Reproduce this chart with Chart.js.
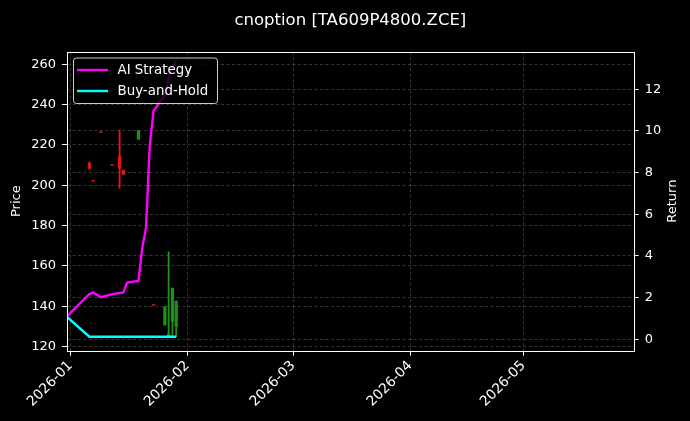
<!DOCTYPE html>
<html><head><meta charset="utf-8">
<script src="https://cdn.jsdelivr.net/npm/chart.js@4.4.1/dist/chart.umd.min.js"></script>
<style>html,body{margin:0;padding:0;background:#000;}#wrap{width:690px;height:421px;}</style>
</head><body><div id="wrap"><canvas id="c" width="690" height="421"></canvas></div>
<script>
const titleText = 'cnoption [TA609P4800.ZCE]';
const seriesNames = ['AI Strategy', 'Buy-and-Hold'];
const axisTitles = ['Price', 'Return'];
const tradeDates = ['2025-12-31','2026-01-06','2026-01-07','2026-01-08','2026-01-09','2026-01-12','2026-01-13','2026-01-14','2026-01-15','2026-01-16','2026-01-19','2026-01-20','2026-01-21','2026-01-22','2026-01-23','2026-01-26','2026-01-27','2026-01-28','2026-01-29'];
const aiStrategy = [1.08,2.17,2.24,2.13,2.02,2.16,2.19,2.22,2.25,2.72,2.80,4.38,5.34,9.30,10.96,11.7,12.5,13.1,13.4];
const buyHold = [1.08,0.12,0.12,0.12,0.12,0.12,0.12,0.12,0.12,0.12,0.12,0.12,0.12,0.12,0.12,0.12,0.12,0.12,0.12];
const candleDates = ['2026-01-06','2026-01-07','2026-01-09','2026-01-12','2026-01-14','2026-01-15','2026-01-19','2026-01-23','2026-01-26','2026-01-27','2026-01-28','2026-01-29'];
const candleOpen  = [211.0,202.5,226.5,210.2,214.2,207.2,222.8,140.9,130.8,125.0,132.5,130.0];
const candleHigh  = [211.5,202.5,226.5,210.2,227.4,207.5,227.1,140.9,139.8,167.0,149.0,142.6];
const candleLow   = [208.0,202.2,226.2,209.9,198.5,205.3,222.8,140.6,130.8,125.0,125.0,125.0];
const candleClose = [208.5,202.2,226.2,209.9,208.5,205.6,227.1,140.6,139.8,126.2,149.0,142.6];
const priceTicks = [120,140,160,180,200,220,240,260];
const returnTicks = [0,2,4,6,8,10,12];
const monthTicks = ['2026-01','2026-02','2026-03','2026-04','2026-05'];

const DAY = 86400000, BASE = Date.UTC(2026,0,1);
function dayOf(s){const p=s.split('-').map(Number);return (Date.UTC(p[0],p[1]-1,p[2]||1)-BASE)/DAY;}
const monthVals = monthTicks.map(dayOf);

const FONT = 'DejaVu Sans';
const TICKSZ = 13;
const XTICKSZ = 13.8;
const LEGSZ = 13.4;
const gridColor = 'rgba(255,255,255,0.26)';
const RED = '#e51616', GREEN = '#1f8f1f';
const candleColor = ctx => {
  const i = ctx.dataIndex;
  return candleClose[i] >= candleOpen[i] ? GREEN : RED;
};

const linePts = arr => tradeDates.map((d,i)=>({x:dayOf(d), y:arr[i]}));

const framePlugin = {
  id:'frame',
  afterDatasetsDraw(chart){
    const {ctx, chartArea:a} = chart;
    ctx.save();
    ctx.strokeStyle = '#ffffff'; ctx.lineWidth = 1;
    ctx.strokeRect(Math.round(a.left)+0.5, Math.round(a.top)+0.5, Math.round(a.right-a.left), Math.round(a.bottom-a.top));
    // legend
    const lx=73.5, ly=58, lw=144, lh=45.5, r=3;
    ctx.beginPath();
    ctx.moveTo(lx+r,ly); ctx.lineTo(lx+lw-r,ly); ctx.arcTo(lx+lw,ly,lx+lw,ly+r,r);
    ctx.lineTo(lx+lw,ly+lh-r); ctx.arcTo(lx+lw,ly+lh,lx+lw-r,ly+lh,r);
    ctx.lineTo(lx+r,ly+lh); ctx.arcTo(lx,ly+lh,lx,ly+lh-r,r);
    ctx.lineTo(lx,ly+r); ctx.arcTo(lx,ly,lx+r,ly,r); ctx.closePath();
    ctx.fillStyle='rgba(0,0,0,0.8)'; ctx.fill();
    ctx.strokeStyle='rgba(255,255,255,0.8)'; ctx.lineWidth=1; ctx.stroke();
    const cols = ['#ff00ff','#00ffff'];
    seriesNames.forEach((n,i)=>{
      const y = 70 + i*21;
      ctx.strokeStyle = cols[i]; ctx.lineWidth = 2.4;
      ctx.beginPath(); ctx.moveTo(77,y); ctx.lineTo(108,y); ctx.stroke();
      ctx.fillStyle='#ffffff'; ctx.font = LEGSZ+'px "'+FONT+'"';
      ctx.textAlign='left'; ctx.textBaseline='middle';
      ctx.fillText(n, 117.5, y+0.5);
    });
    // title
    ctx.font = '16.5px "'+FONT+'"';
    ctx.textAlign='center'; ctx.textBaseline='alphabetic';
    ctx.fillStyle='#ffffff';
    ctx.fillText(titleText, (a.left+a.right)/2, 25);
    // axis titles
    ctx.font = TICKSZ+'px "'+FONT+'"';
    ctx.textBaseline='middle';
    const cy = (a.top+a.bottom)/2;
    [[17, axisTitles[0]],[673, axisTitles[1]]].forEach(([x,t])=>{
      ctx.save(); ctx.translate(x, cy); ctx.rotate(-Math.PI/2);
      ctx.fillText(t, 0, 0); ctx.restore();
    });
    ctx.restore();
  }
};

const tickFont = {family: FONT, size: TICKSZ};
const gridOpts = {color:gridColor, lineWidth:0.8, offset:false, tickColor:'#fff', tickLength:5, tickWidth:1, tickBorderDash:[]};
new Chart(document.getElementById('c'), {
  data: {
    datasets: [
      {type:'line', label:seriesNames[0], data:linePts(aiStrategy), yAxisID:'y2', xAxisID:'x', borderColor:'#ff00ff', borderWidth:2.4, pointRadius:0, tension:0, order:0},
      {type:'line', label:seriesNames[1], data:linePts(buyHold), yAxisID:'y2', xAxisID:'x', borderColor:'#00ffff', borderWidth:2.4, pointRadius:0, tension:0, order:0},
      {type:'bar', label:'wick', data:candleDates.map((d,i)=>({x:dayOf(d), y:[candleLow[i], candleHigh[i]]})), yAxisID:'y', xAxisID:'x', backgroundColor:candleColor, barThickness:1.2, grouped:false, order:2},
      {type:'bar', label:'body', data:candleDates.map((d,i)=>({x:dayOf(d), y:[candleOpen[i], candleClose[i]]})), yAxisID:'y', xAxisID:'x', backgroundColor:candleColor, barThickness:2.6, grouped:false, order:1}
    ]
  },
  options: {
    responsive:false, animation:false, devicePixelRatio:1,
    layout:{padding:{top:51.7,left:0,right:0,bottom:0}},
    plugins:{legend:{display:false}, title:{display:false}, tooltip:{enabled:false}},
    scales:{
      x:{type:'linear', position:'bottom', min:-0.93, max:149.2, offset:false,
        afterBuildTicks:s=>{s.ticks = monthVals.map(v=>({value:v}));},
        afterFit:s=>{s.height = 421-350.7;},
        ticks:{color:'#fff', font:{family:FONT, size:XTICKSZ}, autoSkip:false, minRotation:45, maxRotation:45, padding:2,
          callback:(v)=>{const i=monthVals.indexOf(v);return i>=0?monthTicks[i]:'';}},
        grid:gridOpts,
        border:{display:false, dash:[3,2.5]}
      },
      y:{type:'linear', position:'left', min:118, max:266.2,
        afterBuildTicks:s=>{s.ticks = priceTicks.map(v=>({value:v}));},
        afterFit:s=>{s.width = 67;},
        ticks:{color:'#fff', font:tickFont, padding:6, autoSkip:false},
        grid:gridOpts,
        border:{display:false, dash:[3,2.5]}
      },
      y2:{type:'linear', position:'right', min:-0.55, max:13.8,
        afterBuildTicks:s=>{s.ticks = returnTicks.map(v=>({value:v}));},
        afterFit:s=>{s.width = 690-633.7;},
        ticks:{color:'#fff', font:tickFont, padding:6, autoSkip:false},
        grid:gridOpts,
        border:{display:false, dash:[3,2.5]}
      }
    }
  },
  plugins:[framePlugin]
});
</script></body></html>
